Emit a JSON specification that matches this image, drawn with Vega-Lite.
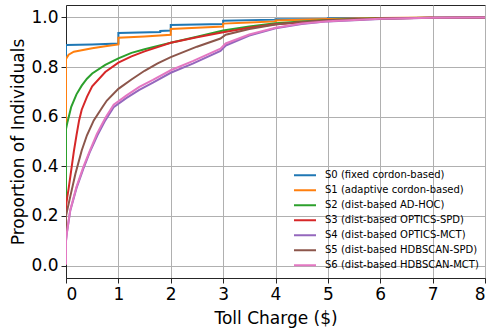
{
  "$schema": "https://vega.github.io/schema/vega-lite/v6.json",
  "width": 419,
  "height": 273,
  "autosize": {"type": "none"},
  "padding": {"left": 66, "top": 5, "right": 4, "bottom": 52},
  "background": "white",
  "datasets": {
    "ecdf": [
      {"s": "S0 (fixed cordon-based)", "i": 0, "x": 0, "y": 0.004},
      {"s": "S0 (fixed cordon-based)", "i": 1, "x": 0, "y": 0.889},
      {"s": "S0 (fixed cordon-based)", "i": 2, "x": 0.5, "y": 0.891},
      {"s": "S0 (fixed cordon-based)", "i": 3, "x": 1, "y": 0.895},
      {"s": "S0 (fixed cordon-based)", "i": 4, "x": 1, "y": 0.937},
      {"s": "S0 (fixed cordon-based)", "i": 5, "x": 1.8, "y": 0.941},
      {"s": "S0 (fixed cordon-based)", "i": 6, "x": 1.8, "y": 0.945},
      {"s": "S0 (fixed cordon-based)", "i": 7, "x": 2, "y": 0.947},
      {"s": "S0 (fixed cordon-based)", "i": 8, "x": 2, "y": 0.969},
      {"s": "S0 (fixed cordon-based)", "i": 9, "x": 2.5, "y": 0.971},
      {"s": "S0 (fixed cordon-based)", "i": 10, "x": 3, "y": 0.973},
      {"s": "S0 (fixed cordon-based)", "i": 11, "x": 3, "y": 0.987},
      {"s": "S0 (fixed cordon-based)", "i": 12, "x": 4, "y": 0.991},
      {"s": "S0 (fixed cordon-based)", "i": 13, "x": 4, "y": 0.993},
      {"s": "S0 (fixed cordon-based)", "i": 14, "x": 5, "y": 0.994},
      {"s": "S0 (fixed cordon-based)", "i": 15, "x": 5, "y": 0.997},
      {"s": "S0 (fixed cordon-based)", "i": 16, "x": 6, "y": 0.998},
      {"s": "S0 (fixed cordon-based)", "i": 17, "x": 6, "y": 1.0},

      {"s": "S1 (adaptive cordon-based)", "i": 0, "x": 0, "y": 0.004},
      {"s": "S1 (adaptive cordon-based)", "i": 1, "x": 0, "y": 0.833},
      {"s": "S1 (adaptive cordon-based)", "i": 2, "x": 0.05, "y": 0.85},
      {"s": "S1 (adaptive cordon-based)", "i": 3, "x": 0.15, "y": 0.862},
      {"s": "S1 (adaptive cordon-based)", "i": 4, "x": 0.3, "y": 0.868},
      {"s": "S1 (adaptive cordon-based)", "i": 5, "x": 0.5, "y": 0.876},
      {"s": "S1 (adaptive cordon-based)", "i": 6, "x": 0.75, "y": 0.884},
      {"s": "S1 (adaptive cordon-based)", "i": 7, "x": 1, "y": 0.891},
      {"s": "S1 (adaptive cordon-based)", "i": 8, "x": 1, "y": 0.918},
      {"s": "S1 (adaptive cordon-based)", "i": 9, "x": 1.5, "y": 0.923},
      {"s": "S1 (adaptive cordon-based)", "i": 10, "x": 2, "y": 0.93},
      {"s": "S1 (adaptive cordon-based)", "i": 11, "x": 2, "y": 0.953},
      {"s": "S1 (adaptive cordon-based)", "i": 12, "x": 2.5, "y": 0.958},
      {"s": "S1 (adaptive cordon-based)", "i": 13, "x": 3, "y": 0.963},
      {"s": "S1 (adaptive cordon-based)", "i": 14, "x": 3, "y": 0.975},
      {"s": "S1 (adaptive cordon-based)", "i": 15, "x": 3.5, "y": 0.979},
      {"s": "S1 (adaptive cordon-based)", "i": 16, "x": 4, "y": 0.984},
      {"s": "S1 (adaptive cordon-based)", "i": 17, "x": 4, "y": 0.988},
      {"s": "S1 (adaptive cordon-based)", "i": 18, "x": 5, "y": 0.994},
      {"s": "S1 (adaptive cordon-based)", "i": 19, "x": 6, "y": 0.998},
      {"s": "S1 (adaptive cordon-based)", "i": 20, "x": 7, "y": 1.0},

      {"s": "S2 (dist-based AD-HOC)", "i": 0, "x": 0, "y": 0.004},
      {"s": "S2 (dist-based AD-HOC)", "i": 1, "x": 0, "y": 0.55},
      {"s": "S2 (dist-based AD-HOC)", "i": 2, "x": 0.03, "y": 0.58},
      {"s": "S2 (dist-based AD-HOC)", "i": 3, "x": 0.1, "y": 0.64},
      {"s": "S2 (dist-based AD-HOC)", "i": 4, "x": 0.2, "y": 0.69},
      {"s": "S2 (dist-based AD-HOC)", "i": 5, "x": 0.3, "y": 0.725},
      {"s": "S2 (dist-based AD-HOC)", "i": 6, "x": 0.4, "y": 0.753},
      {"s": "S2 (dist-based AD-HOC)", "i": 7, "x": 0.5, "y": 0.774},
      {"s": "S2 (dist-based AD-HOC)", "i": 8, "x": 0.75, "y": 0.809},
      {"s": "S2 (dist-based AD-HOC)", "i": 9, "x": 1, "y": 0.835},
      {"s": "S2 (dist-based AD-HOC)", "i": 10, "x": 1.25, "y": 0.857},
      {"s": "S2 (dist-based AD-HOC)", "i": 11, "x": 1.5, "y": 0.872},
      {"s": "S2 (dist-based AD-HOC)", "i": 12, "x": 1.75, "y": 0.885},
      {"s": "S2 (dist-based AD-HOC)", "i": 13, "x": 2, "y": 0.898},
      {"s": "S2 (dist-based AD-HOC)", "i": 14, "x": 2.5, "y": 0.922},
      {"s": "S2 (dist-based AD-HOC)", "i": 15, "x": 3, "y": 0.947},
      {"s": "S2 (dist-based AD-HOC)", "i": 16, "x": 3.5, "y": 0.963},
      {"s": "S2 (dist-based AD-HOC)", "i": 17, "x": 4, "y": 0.976},
      {"s": "S2 (dist-based AD-HOC)", "i": 18, "x": 4.5, "y": 0.984},
      {"s": "S2 (dist-based AD-HOC)", "i": 19, "x": 5, "y": 0.99},
      {"s": "S2 (dist-based AD-HOC)", "i": 20, "x": 6, "y": 0.997},
      {"s": "S2 (dist-based AD-HOC)", "i": 21, "x": 7, "y": 0.999},
      {"s": "S2 (dist-based AD-HOC)", "i": 22, "x": 8, "y": 1.0},

      {"s": "S3 (dist-based OPTICS-SPD)", "i": 0, "x": 0, "y": 0.004},
      {"s": "S3 (dist-based OPTICS-SPD)", "i": 1, "x": 0, "y": 0.24},
      {"s": "S3 (dist-based OPTICS-SPD)", "i": 2, "x": 0.02, "y": 0.27},
      {"s": "S3 (dist-based OPTICS-SPD)", "i": 3, "x": 0.05, "y": 0.31},
      {"s": "S3 (dist-based OPTICS-SPD)", "i": 4, "x": 0.1, "y": 0.385},
      {"s": "S3 (dist-based OPTICS-SPD)", "i": 5, "x": 0.15, "y": 0.46},
      {"s": "S3 (dist-based OPTICS-SPD)", "i": 6, "x": 0.2, "y": 0.525},
      {"s": "S3 (dist-based OPTICS-SPD)", "i": 7, "x": 0.25, "y": 0.585},
      {"s": "S3 (dist-based OPTICS-SPD)", "i": 8, "x": 0.3, "y": 0.628},
      {"s": "S3 (dist-based OPTICS-SPD)", "i": 9, "x": 0.4, "y": 0.68},
      {"s": "S3 (dist-based OPTICS-SPD)", "i": 10, "x": 0.5, "y": 0.722},
      {"s": "S3 (dist-based OPTICS-SPD)", "i": 11, "x": 0.75, "y": 0.78},
      {"s": "S3 (dist-based OPTICS-SPD)", "i": 12, "x": 1, "y": 0.818},
      {"s": "S3 (dist-based OPTICS-SPD)", "i": 13, "x": 1.25, "y": 0.843},
      {"s": "S3 (dist-based OPTICS-SPD)", "i": 14, "x": 1.5, "y": 0.863},
      {"s": "S3 (dist-based OPTICS-SPD)", "i": 15, "x": 2, "y": 0.898},
      {"s": "S3 (dist-based OPTICS-SPD)", "i": 16, "x": 2.5, "y": 0.92},
      {"s": "S3 (dist-based OPTICS-SPD)", "i": 17, "x": 3, "y": 0.94},
      {"s": "S3 (dist-based OPTICS-SPD)", "i": 18, "x": 3.5, "y": 0.958},
      {"s": "S3 (dist-based OPTICS-SPD)", "i": 19, "x": 4, "y": 0.972},
      {"s": "S3 (dist-based OPTICS-SPD)", "i": 20, "x": 5, "y": 0.988},
      {"s": "S3 (dist-based OPTICS-SPD)", "i": 21, "x": 6, "y": 0.996},
      {"s": "S3 (dist-based OPTICS-SPD)", "i": 22, "x": 7, "y": 0.999},
      {"s": "S3 (dist-based OPTICS-SPD)", "i": 23, "x": 8, "y": 1.0},

      {"s": "S4 (dist-based OPTICS-MCT)", "i": 0, "x": 0, "y": 0.004},
      {"s": "S4 (dist-based OPTICS-MCT)", "i": 1, "x": 0, "y": 0.1},
      {"s": "S4 (dist-based OPTICS-MCT)", "i": 2, "x": 0.015, "y": 0.13},
      {"s": "S4 (dist-based OPTICS-MCT)", "i": 3, "x": 0.08, "y": 0.22},
      {"s": "S4 (dist-based OPTICS-MCT)", "i": 4, "x": 0.2, "y": 0.312},
      {"s": "S4 (dist-based OPTICS-MCT)", "i": 5, "x": 0.33, "y": 0.39},
      {"s": "S4 (dist-based OPTICS-MCT)", "i": 6, "x": 0.45, "y": 0.455},
      {"s": "S4 (dist-based OPTICS-MCT)", "i": 7, "x": 0.6, "y": 0.525},
      {"s": "S4 (dist-based OPTICS-MCT)", "i": 8, "x": 0.75, "y": 0.585},
      {"s": "S4 (dist-based OPTICS-MCT)", "i": 9, "x": 0.91, "y": 0.638},
      {"s": "S4 (dist-based OPTICS-MCT)", "i": 10, "x": 1.15, "y": 0.675},
      {"s": "S4 (dist-based OPTICS-MCT)", "i": 11, "x": 1.4, "y": 0.708},
      {"s": "S4 (dist-based OPTICS-MCT)", "i": 12, "x": 1.66, "y": 0.737},
      {"s": "S4 (dist-based OPTICS-MCT)", "i": 13, "x": 2, "y": 0.777},
      {"s": "S4 (dist-based OPTICS-MCT)", "i": 14, "x": 2.42, "y": 0.814},
      {"s": "S4 (dist-based OPTICS-MCT)", "i": 15, "x": 2.95, "y": 0.865},
      {"s": "S4 (dist-based OPTICS-MCT)", "i": 16, "x": 3.05, "y": 0.887},
      {"s": "S4 (dist-based OPTICS-MCT)", "i": 17, "x": 3.5, "y": 0.927},
      {"s": "S4 (dist-based OPTICS-MCT)", "i": 18, "x": 4, "y": 0.956},
      {"s": "S4 (dist-based OPTICS-MCT)", "i": 19, "x": 4.5, "y": 0.973},
      {"s": "S4 (dist-based OPTICS-MCT)", "i": 20, "x": 5, "y": 0.984},
      {"s": "S4 (dist-based OPTICS-MCT)", "i": 21, "x": 6, "y": 0.994},
      {"s": "S4 (dist-based OPTICS-MCT)", "i": 22, "x": 7, "y": 0.999},
      {"s": "S4 (dist-based OPTICS-MCT)", "i": 23, "x": 8, "y": 1.0},

      {"s": "S5 (dist-based HDBSCAN-SPD)", "i": 0, "x": 0, "y": 0.004},
      {"s": "S5 (dist-based HDBSCAN-SPD)", "i": 1, "x": 0, "y": 0.2},
      {"s": "S5 (dist-based HDBSCAN-SPD)", "i": 2, "x": 0.02, "y": 0.22},
      {"s": "S5 (dist-based HDBSCAN-SPD)", "i": 3, "x": 0.08, "y": 0.277},
      {"s": "S5 (dist-based HDBSCAN-SPD)", "i": 4, "x": 0.18, "y": 0.37},
      {"s": "S5 (dist-based HDBSCAN-SPD)", "i": 5, "x": 0.3, "y": 0.464},
      {"s": "S5 (dist-based HDBSCAN-SPD)", "i": 6, "x": 0.4, "y": 0.525},
      {"s": "S5 (dist-based HDBSCAN-SPD)", "i": 7, "x": 0.53, "y": 0.585},
      {"s": "S5 (dist-based HDBSCAN-SPD)", "i": 8, "x": 0.7, "y": 0.64},
      {"s": "S5 (dist-based HDBSCAN-SPD)", "i": 9, "x": 0.78, "y": 0.665},
      {"s": "S5 (dist-based HDBSCAN-SPD)", "i": 10, "x": 1, "y": 0.712},
      {"s": "S5 (dist-based HDBSCAN-SPD)", "i": 11, "x": 1.25, "y": 0.75},
      {"s": "S5 (dist-based HDBSCAN-SPD)", "i": 12, "x": 1.5, "y": 0.785},
      {"s": "S5 (dist-based HDBSCAN-SPD)", "i": 13, "x": 1.75, "y": 0.815},
      {"s": "S5 (dist-based HDBSCAN-SPD)", "i": 14, "x": 2, "y": 0.84},
      {"s": "S5 (dist-based HDBSCAN-SPD)", "i": 15, "x": 2.5, "y": 0.882},
      {"s": "S5 (dist-based HDBSCAN-SPD)", "i": 16, "x": 2.95, "y": 0.915},
      {"s": "S5 (dist-based HDBSCAN-SPD)", "i": 17, "x": 3.05, "y": 0.93},
      {"s": "S5 (dist-based HDBSCAN-SPD)", "i": 18, "x": 3.5, "y": 0.953},
      {"s": "S5 (dist-based HDBSCAN-SPD)", "i": 19, "x": 4, "y": 0.971},
      {"s": "S5 (dist-based HDBSCAN-SPD)", "i": 20, "x": 4.5, "y": 0.982},
      {"s": "S5 (dist-based HDBSCAN-SPD)", "i": 21, "x": 5, "y": 0.989},
      {"s": "S5 (dist-based HDBSCAN-SPD)", "i": 22, "x": 6, "y": 0.996},
      {"s": "S5 (dist-based HDBSCAN-SPD)", "i": 23, "x": 7, "y": 0.999},
      {"s": "S5 (dist-based HDBSCAN-SPD)", "i": 24, "x": 8, "y": 1.0},

      {"s": "S6 (dist-based HDBSCAN-MCT)", "i": 0, "x": 0, "y": 0.004},
      {"s": "S6 (dist-based HDBSCAN-MCT)", "i": 1, "x": 0, "y": 0.1},
      {"s": "S6 (dist-based HDBSCAN-MCT)", "i": 2, "x": 0.015, "y": 0.13},
      {"s": "S6 (dist-based HDBSCAN-MCT)", "i": 3, "x": 0.08, "y": 0.223},
      {"s": "S6 (dist-based HDBSCAN-MCT)", "i": 4, "x": 0.2, "y": 0.317},
      {"s": "S6 (dist-based HDBSCAN-MCT)", "i": 5, "x": 0.33, "y": 0.397},
      {"s": "S6 (dist-based HDBSCAN-MCT)", "i": 6, "x": 0.45, "y": 0.46},
      {"s": "S6 (dist-based HDBSCAN-MCT)", "i": 7, "x": 0.59, "y": 0.531},
      {"s": "S6 (dist-based HDBSCAN-MCT)", "i": 8, "x": 0.75, "y": 0.595},
      {"s": "S6 (dist-based HDBSCAN-MCT)", "i": 9, "x": 0.91, "y": 0.648},
      {"s": "S6 (dist-based HDBSCAN-MCT)", "i": 10, "x": 1.15, "y": 0.685},
      {"s": "S6 (dist-based HDBSCAN-MCT)", "i": 11, "x": 1.4, "y": 0.72},
      {"s": "S6 (dist-based HDBSCAN-MCT)", "i": 12, "x": 1.66, "y": 0.748},
      {"s": "S6 (dist-based HDBSCAN-MCT)", "i": 13, "x": 2, "y": 0.787},
      {"s": "S6 (dist-based HDBSCAN-MCT)", "i": 14, "x": 2.42, "y": 0.824},
      {"s": "S6 (dist-based HDBSCAN-MCT)", "i": 15, "x": 2.95, "y": 0.874},
      {"s": "S6 (dist-based HDBSCAN-MCT)", "i": 16, "x": 3.05, "y": 0.895},
      {"s": "S6 (dist-based HDBSCAN-MCT)", "i": 17, "x": 3.5, "y": 0.931},
      {"s": "S6 (dist-based HDBSCAN-MCT)", "i": 18, "x": 4, "y": 0.958},
      {"s": "S6 (dist-based HDBSCAN-MCT)", "i": 19, "x": 4.5, "y": 0.975},
      {"s": "S6 (dist-based HDBSCAN-MCT)", "i": 20, "x": 5, "y": 0.985},
      {"s": "S6 (dist-based HDBSCAN-MCT)", "i": 21, "x": 6, "y": 0.995},
      {"s": "S6 (dist-based HDBSCAN-MCT)", "i": 22, "x": 7, "y": 0.999},
      {"s": "S6 (dist-based HDBSCAN-MCT)", "i": 23, "x": 8, "y": 1.0}
    ]
  },
  "data": {"name": "ecdf"},
  "mark": {"type": "line", "strokeWidth": 2, "clip": true},
  "encoding": {
    "x": {
      "field": "x", "type": "quantitative",
      "scale": {"domain": [0, 8], "nice": false, "zero": false},
      "axis": {"values": [0, 1, 2, 3, 4, 5, 6, 7, 8], "format": "d", "title": "Toll Charge ($)", "labelPadding": 3, "titlePadding": 8}
    },
    "y": {
      "field": "y", "type": "quantitative",
      "scale": {"domain": [-0.05, 1.05], "nice": false, "zero": false},
      "axis": {"values": [0, 0.2, 0.4, 0.6, 0.8, 1.0], "format": ".1f", "title": "Proportion of Individuals", "labelPadding": 3, "titlePadding": 3}
    },
    "order": {"field": "i", "type": "quantitative"},
    "color": {
      "field": "s", "type": "nominal",
      "scale": {
        "domain": ["S0 (fixed cordon-based)", "S1 (adaptive cordon-based)", "S2 (dist-based AD-HOC)", "S3 (dist-based OPTICS-SPD)", "S4 (dist-based OPTICS-MCT)", "S5 (dist-based HDBSCAN-SPD)", "S6 (dist-based HDBSCAN-MCT)"],
        "range": ["#1f77b4", "#ff7f0e", "#2ca02c", "#d62728", "#9467bd", "#8c564b", "#e377c2"]
      },
      "legend": {
        "orient": "none", "legendX": 227, "legendY": 163, "title": null,
        "symbolType": "stroke", "symbolSize": 484, "symbolStrokeWidth": 2,
        "labelFont": "DejaVu Sans", "labelFontSize": 10, "labelColor": "#000", "labelOffset": 8,
        "rowPadding": 0, "clipHeight": 14.5, "padding": 0, "labelLimit": 300
      }
    }
  },
  "config": {
    "view": {"stroke": "#262626", "strokeWidth": 1},
    "axis": {
      "grid": true, "gridColor": "#b0b0b0", "gridWidth": 1,
      "domainColor": "#262626", "tickColor": "#262626", "tickSize": 5,
      "labelFont": "DejaVu Sans", "labelFontSize": 17, "labelColor": "#000",
      "titleFont": "DejaVu Sans", "titleFontSize": 17, "titleFontWeight": "normal", "titleColor": "#000"
    }
  }
}
